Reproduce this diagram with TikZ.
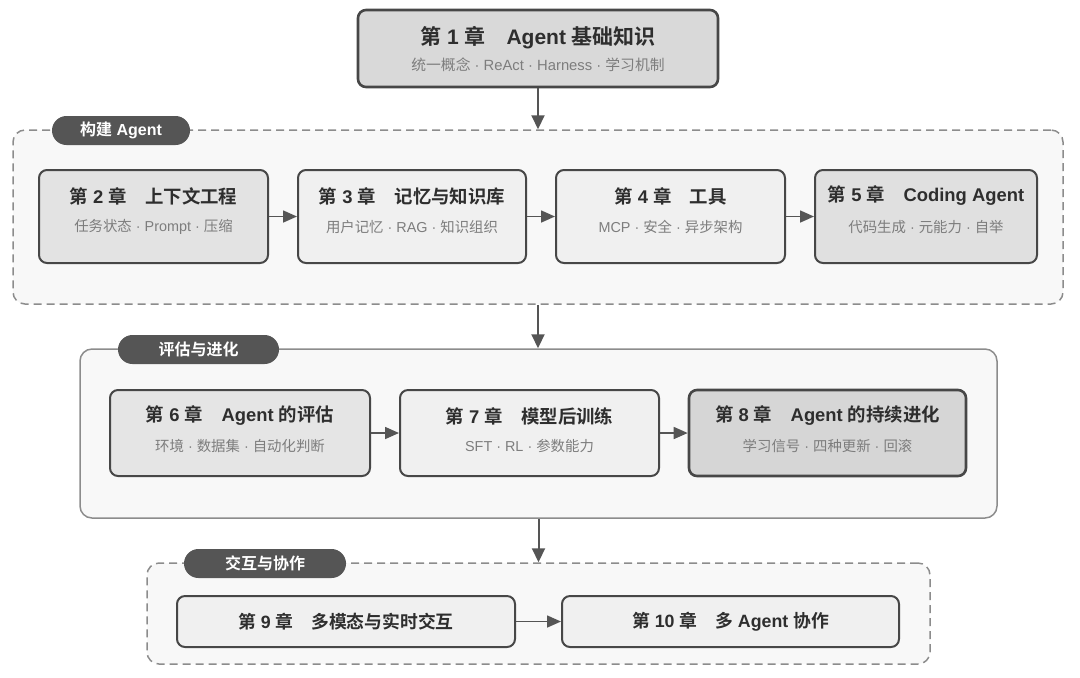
\documentclass[tikz,border=0pt]{standalone}
\usepackage{fontspec}
\setmainfont{Liberation Sans}
\newfontfamily\cjk[BoldFont={Noto Sans CJK SC Bold}]{Noto Sans CJK SC}
\newcommand{\zh}[1]{{\cjk #1}}
\usetikzlibrary{arrows.meta,shapes.misc}
\definecolor{edgecol}{HTML}{474747}
\definecolor{rulecol}{HTML}{8C8C8C}
\definecolor{groupbg}{HTML}{F8F8F8}
\definecolor{tagbg}{HTML}{555555}
\definecolor{linkcol}{HTML}{555555}
\definecolor{titlecol}{HTML}{2E2E2E}
\definecolor{subcol}{HTML}{7D7D7D}

\begin{document}
\begin{tikzpicture}[x=0.5pt,y=-0.5pt,
    chapbox/.style={draw=edgecol, line width=1pt, rounded corners=4pt, inner sep=0pt, minimum height=46.5pt},
    groupbox/.style={draw=rulecol, line width=0.75pt, fill=groupbg, rounded corners=6pt, inner sep=0pt},
    grouptag/.style={rounded rectangle, fill=tagbg, text=white, inner sep=0pt, minimum height=14.5pt, font=\bfseries\fontsize{8}{9}\selectfont},
    chaptitle/.style={text=titlecol, font=\bfseries\fontsize{9.2}{11}\selectfont},
    chapsub/.style={text=subcol, font=\fontsize{7.2}{9}\selectfont},
    hlink/.style={draw=linkcol, line width=0.8pt, -{Triangle[length=7pt,width=6pt]}},
    vlink/.style={draw=linkcol, line width=1pt, -{Triangle[length=7pt,width=6.5pt]}}]
    \useasboundingbox (0,0) rectangle (1080,677);

    % groups
    \node [groupbox, dashed, dash pattern=on 4pt off 2.5pt, minimum width=525pt, minimum height=87pt] (g1) at (538,217) {};
    \node [groupbox, minimum width=458.5pt, minimum height=84.5pt] (g2) at (538.5,433.5) {};
    \node [groupbox, dashed, dash pattern=on 4pt off 2.5pt, minimum width=391.5pt, minimum height=50.5pt] (g3) at (538.5,613.5) {};
    \node [grouptag, minimum width=69pt] (t1) at (121,130.5) {\zh{构建} Agent};
    \node [grouptag, minimum width=80.5pt] (t2) at (198.5,349.5) {\zh{评估与进化}};
    \node [grouptag, minimum width=81pt] (t3) at (265,563.5) {\zh{交互与协作}};

    % chapter 1
    \node [chapbox, fill=black!15, line width=1.3pt, minimum width=180pt, minimum height=38.5pt] (c1) at (538,48.5) {};
    \node [chaptitle, font=\bfseries\fontsize{10.5}{12}\selectfont] at ([yshift=-14.5pt]c1.north) {\zh{第} 1 \zh{章}\quad Agent \zh{基础知识}};
    \node [chapsub, font=\fontsize{7.4}{9}\selectfont] at ([yshift=-28pt]c1.north) {\zh{统一概念} · ReAct · Harness · \zh{学习机制}};

    % first row
    \node [chapbox, fill=black!11, minimum width=114.5pt] (c2) at (153.5,216.5) {};
    \node [chapbox, fill=black!6, minimum width=114pt] (c3) at (412,216.5) {};
    \node [chapbox, fill=black!6, minimum width=114.5pt] (c4) at (670.5,216.5) {};
    \node [chapbox, fill=black!12, minimum width=111pt] (c5) at (926,216.5) {};
    \node [chaptitle] at ([yshift=-13.5pt]c2.north) {\zh{第} 2 \zh{章}\quad\zh{上下文工程}};
    \node [chapsub] at ([yshift=-29pt]c2.north) {\zh{任务状态} · Prompt · \zh{压缩}};
    \node [chaptitle] at ([yshift=-13.5pt]c3.north) {\zh{第} 3 \zh{章}\quad\zh{记忆与知识库}};
    \node [chapsub] at ([yshift=-29pt]c3.north) {\zh{用户记忆} · RAG · \zh{知识组织}};
    \node [chaptitle] at ([yshift=-13.5pt]c4.north) {\zh{第} 4 \zh{章}\quad\zh{工具}};
    \node [chapsub] at ([yshift=-29pt]c4.north) {MCP · \zh{安全} · \zh{异步架构}};
    \node [chaptitle] at ([yshift=-13.5pt]c5.north) {\zh{第} 5 \zh{章}\quad Coding Agent};
    \node [chapsub] at ([yshift=-29pt]c5.north) {\zh{代码生成} · \zh{元能力} · \zh{自举}};

    % second row
    \node [chapbox, fill=black!10, minimum width=130pt, minimum height=43pt] (c6) at (240,433) {};
    \node [chapbox, fill=black!6, minimum width=129.5pt, minimum height=43pt] (c7) at (529.5,433) {};
    \node [chapbox, fill=black!16, line width=1.3pt, minimum width=138.5pt, minimum height=43pt] (c8) at (827.5,433) {};
    \node [chaptitle] at ([yshift=-13.5pt]c6.north) {\zh{第} 6 \zh{章}\quad Agent \zh{的评估}};
    \node [chapsub] at ([yshift=-28.5pt]c6.north) {\zh{环境} · \zh{数据集} · \zh{自动化判断}};
    \node [chaptitle] at ([yshift=-13.5pt]c7.north) {\zh{第} 7 \zh{章}\quad\zh{模型后训练}};
    \node [chapsub] at ([yshift=-28.5pt]c7.north) {SFT · RL · \zh{参数能力}};
    \node [chaptitle] at ([yshift=-13.5pt]c8.north) {\zh{第} 8 \zh{章}\quad Agent \zh{的持续进化}};
    \node [chapsub] at ([yshift=-28.5pt]c8.north) {\zh{学习信号} · \zh{四种更新} · \zh{回滚}};

    % third row
    \node [chapbox, chaptitle, fill=black!6, minimum width=169pt, minimum height=25.5pt, font=\bfseries\fontsize{8.9}{10}\selectfont] (c9) at (346,621.5) {\zh{第} 9 \zh{章}\quad\zh{多模态与实时交互}};
    \node [chapbox, chaptitle, fill=black!6, minimum width=168.5pt, minimum height=25.5pt, font=\bfseries\fontsize{8.9}{10}\selectfont] (c10) at (730.5,621.5) {\zh{第} 10 \zh{章}\quad\zh{多} Agent \zh{协作}};

    % arrows
    \draw [vlink] (c1.south) -- (g1.north);
    \draw [vlink] (g1.south) -- (g1.south |- g2.north);
    \draw [vlink] (g2.south) -- (g2.south |- g3.north);
    \draw [hlink] (c2) -- (c3);
    \draw [hlink] (c3) -- (c4);
    \draw [hlink] (c4) -- (c5);
    \draw [hlink] (c6) -- (c7);
    \draw [hlink] (c7) -- (c8);
    \draw [hlink] (c9) -- (c10);
\end{tikzpicture}
\end{document}
